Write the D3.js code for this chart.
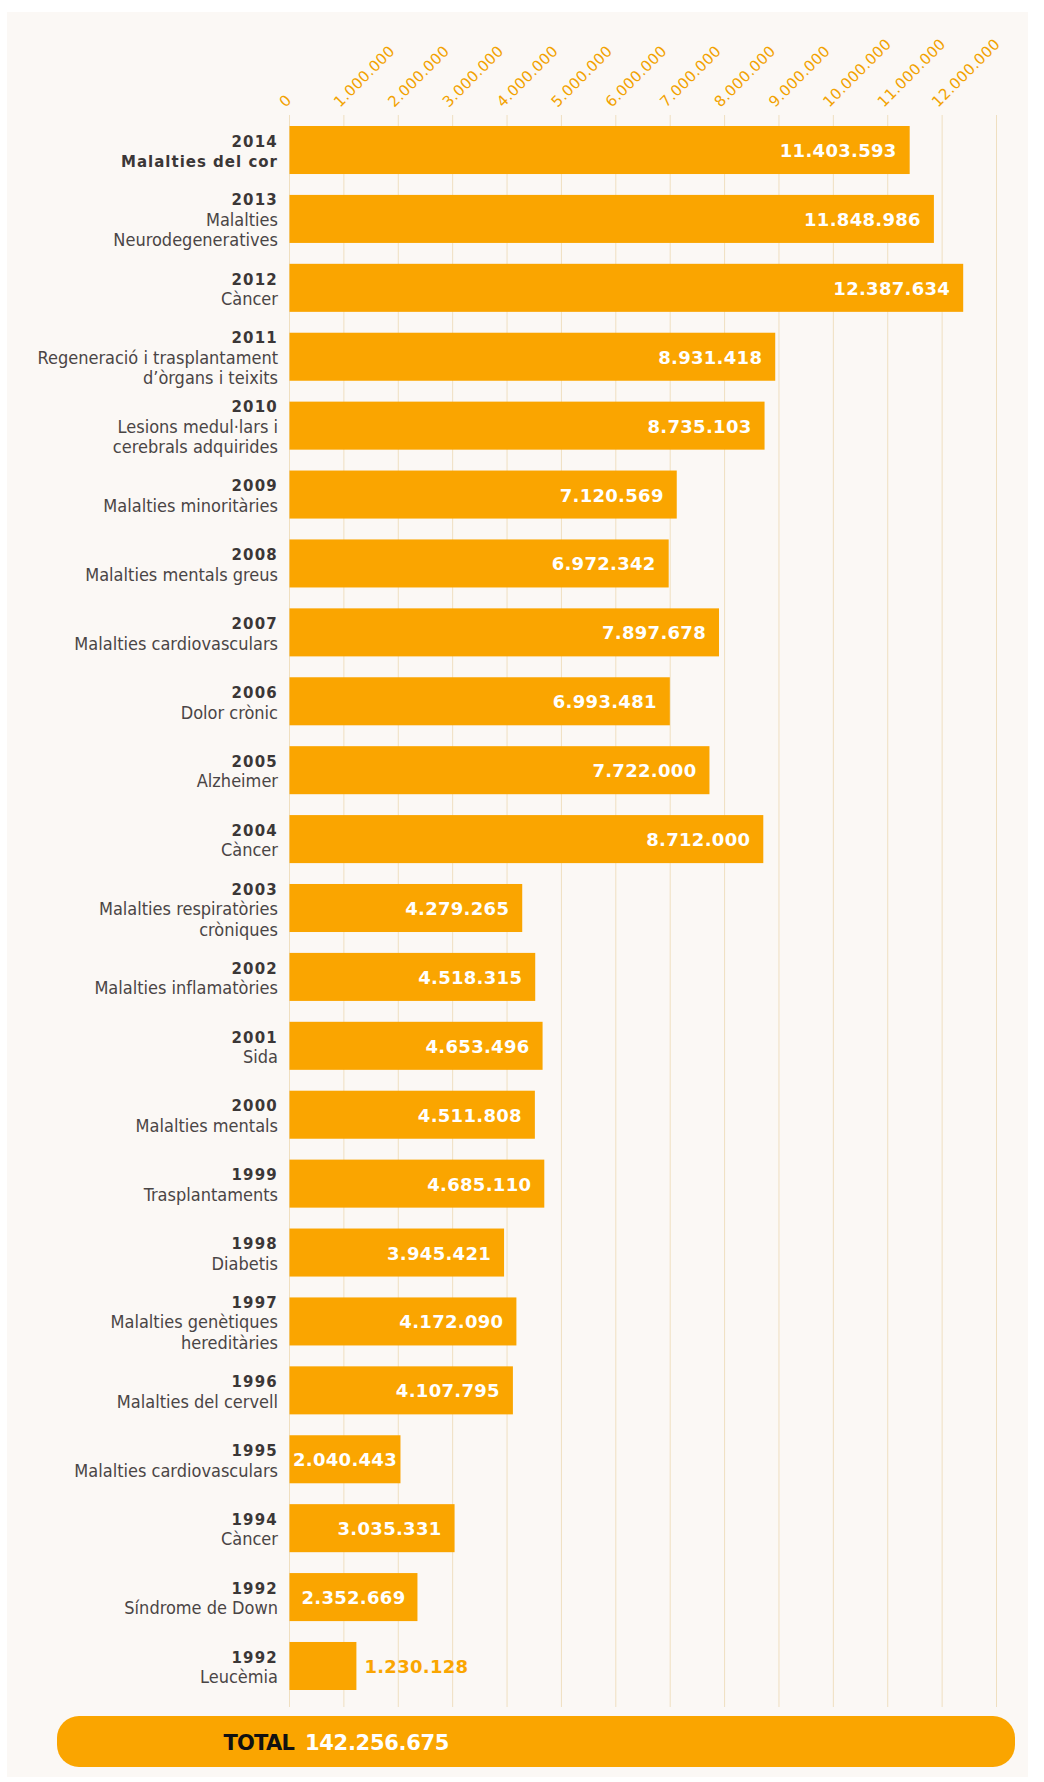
<!DOCTYPE html>
<html lang="ca">
<head>
  <meta charset="UTF-8">
  <title>Marató TV3 - recaptació</title>
  <script src="https://d3js.org/d3.v7.min.js"></script>
  <style>
    body { margin: 0; background: #ffffff; }
    .tick-label { font-family: "DejaVu Sans", sans-serif; font-size: 15px; fill: #f2a200; letter-spacing: 0.3px; }
    .year { font-family: "DejaVu Sans", sans-serif; font-weight: bold; font-size: 15px; fill: #3b3737; letter-spacing: 1.2px; }
    .name { font-family: "Liberation Sans Narrow", "DejaVu Sans Condensed", "Liberation Sans", sans-serif; font-size: 18px; fill: #4a4545; }
    .name.bold { font-family: "DejaVu Sans", sans-serif; font-weight: bold; font-size: 15px; letter-spacing: 1px; fill: #3b3737; }
    .value { font-family: "DejaVu Sans", sans-serif; font-weight: bold; font-size: 18px; letter-spacing: 0.3px; }
  </style>
</head>
<body>
<div id="chart"></div>
<script>
// dades (Marató per edició)
const years = ["2014", "2013", "2012", "2011", "2010", "2009", "2008", "2007", "2006", "2005",
  "2004", "2003", "2002", "2001", "2000", "1999", "1998", "1997", "1996", "1995", "1994", "1992", "1992"];
const names = [
  ["Malalties del cor"],
  ["Malalties", "Neurodegeneratives"],
  ["Càncer"],
  ["Regeneració i trasplantament", "d’òrgans i teixits"],
  ["Lesions medul·lars i", "cerebrals adquirides"],
  ["Malalties minoritàries"],
  ["Malalties mentals greus"],
  ["Malalties cardiovasculars"],
  ["Dolor crònic"],
  ["Alzheimer"],
  ["Càncer"],
  ["Malalties respiratòries", "cròniques"],
  ["Malalties inflamatòries"],
  ["Sida"],
  ["Malalties mentals"],
  ["Trasplantaments"],
  ["Diabetis"],
  ["Malalties genètiques", "hereditàries"],
  ["Malalties del cervell"],
  ["Malalties cardiovasculars"],
  ["Càncer"],
  ["Síndrome de Down"],
  ["Leucèmia"]
];
const values = [11403593, 11848986, 12387634, 8931418, 8735103, 7120569, 6972342, 7897678, 6993481, 7722000,
  8712000, 4279265, 4518315, 4653496, 4511808, 4685110, 3945421, 4172090, 4107795, 2040443, 3035331, 2352669, 1230128];
const tickValues = [0, 1e6, 2e6, 3e6, 4e6, 5e6, 6e6, 7e6, 8e6, 9e6, 10e6, 11e6, 12e6];
const gridValues = [0, 1e6, 2e6, 3e6, 4e6, 5e6, 6e6, 7e6, 8e6, 9e6, 10e6, 11e6, 12e6, 13e6];
const totalLabel = "TOTAL";
const totalValue = 142256675;

const width = 1044, height = 1782;
const orange = "#faa500";

const locale = d3.formatLocale({ decimal: ",", thousands: ".", grouping: [3], currency: ["", "€"] });
const fmt = locale.format(",d");

const svg = d3.select("#chart").append("svg")
  .attr("width", width)
  .attr("height", height);

// fons
svg.append("rect")
  .attr("x", 7).attr("y", 12)
  .attr("width", 1021).attr("height", height - 17)
  .attr("fill", "#fbf8f5");

const x = d3.scaleLinear().domain([0, 13e6]).range([289.5, 996.5]);
const idx = d3.range(values.length);
const y = d3.scaleBand().domain(idx).range([126, 1690]).paddingInner(0.303).paddingOuter(0);

// graella
svg.append("g").selectAll("line")
  .data(gridValues)
  .join("line")
  .attr("x1", d => x(d)).attr("x2", d => x(d))
  .attr("y1", 115).attr("y2", 1707)
  .attr("stroke", "#efdfc0")
  .attr("stroke-width", 1);

// etiquetes eix (inclinades)
svg.append("g").selectAll("text")
  .data(tickValues)
  .join("text")
  .attr("class", "tick-label")
  .attr("transform", d => `translate(${x(d) - 4},108) rotate(-45)`)
  .text(d => fmt(d));

// barres
svg.append("g").selectAll("rect")
  .data(idx)
  .join("rect")
  .attr("x", x(0))
  .attr("y", i => y(i))
  .attr("width", i => x(values[i]) - x(0))
  .attr("height", y.bandwidth())
  .attr("fill", orange);

// valors: dins la barra si hi caben, si no a fora
svg.append("g").selectAll("text")
  .data(idx)
  .join("text")
  .attr("class", "value")
  .attr("y", i => y(i) + y.bandwidth() / 2 + 7)
  .text(i => fmt(values[i]))
  .each(function(i) {
    const w = x(values[i]) - x(0);
    const tw = this.getComputedTextLength();
    const t = d3.select(this);
    if (w < tw * 0.8) {
      t.attr("x", x(values[i]) + 8).attr("text-anchor", "start").attr("fill", orange);
    } else {
      const pad = Math.min(13, Math.max(2, (w - tw) / 2));
      t.attr("x", x(values[i]) - pad).attr("text-anchor", "end").attr("fill", "#ffffff");
    }
  });

// etiquetes de categoria
const lineH = 20.5;
const labels = svg.append("g").selectAll("text")
  .data(idx)
  .join("text")
  .attr("text-anchor", "end");

labels.each(function(i) {
  const lines = [years[i]].concat(names[i]);
  const cy = y(i) + y.bandwidth() / 2;
  const y0 = cy - (lines.length - 1) * lineH / 2 + 7;
  const t = d3.select(this);
  lines.forEach((l, k) => {
    t.append("tspan")
      .attr("x", 278)
      .attr("y", y0 + k * lineH)
      .attr("class", k === 0 ? "year" : (i === 0 ? "name bold" : "name"))
      .text(l);
  });
});

// total
svg.append("rect")
  .attr("x", 57).attr("y", 1716)
  .attr("width", 958).attr("height", 51)
  .attr("rx", 22)
  .attr("fill", orange);

svg.append("text")
  .attr("x", 294).attr("y", 1750)
  .attr("text-anchor", "end")
  .attr("font-family", "DejaVu Sans, sans-serif")
  .attr("font-weight", "bold")
  .attr("font-size", 21)
  .attr("letter-spacing", -0.8)
  .attr("fill", "#111111")
  .text(totalLabel);

svg.append("text")
  .attr("x", 305).attr("y", 1750)
  .attr("font-family", "DejaVu Sans, sans-serif")
  .attr("font-weight", "bold")
  .attr("font-size", 21)
  .attr("letter-spacing", -0.3)
  .attr("fill", "#ffffff")
  .text(fmt(totalValue));
</script>
</body>
</html>
